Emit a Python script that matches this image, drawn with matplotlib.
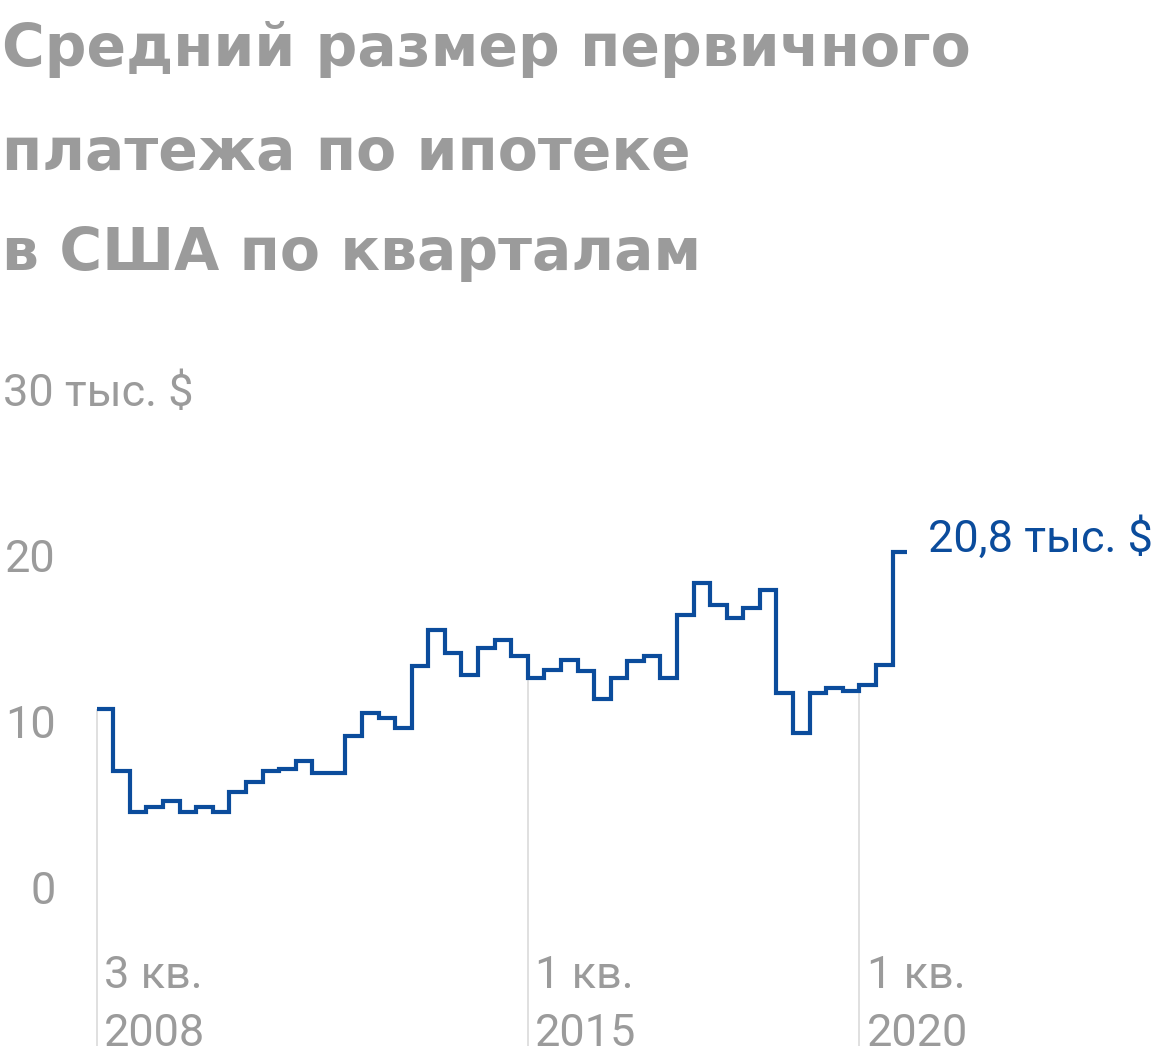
"""Средний размер первичного платежа по ипотеке в США по кварталам."""
import matplotlib
matplotlib.use("Agg")
import matplotlib.pyplot as plt

# первый квартал ряда
start_year = 2008
start_quarter = 3

# средний первичный платёж, тыс. $ (3 кв. 2008 — 3 кв. 2020)
payments = [
    11.3, 7.6, 5.1, 5.4, 5.8, 5.1, 5.4, 5.1, 6.3, 6.9,
    7.6, 7.7, 8.2, 7.5, 7.5, 9.7, 11.1, 10.8, 10.2, 13.9,
    16.1, 14.7, 13.4, 15.0, 15.5, 14.5, 13.2, 13.7, 14.3, 13.6,
    11.9, 13.2, 14.2, 14.5, 13.2, 17.0, 18.9, 17.6, 16.8, 17.4,
    18.5, 12.3, 9.9, 12.3, 12.6, 12.4, 12.8, 14.0, 20.8,
]

y_ticks = [0, 10, 20, 30]
y_tick_labels = ["0", "10", "20", "30 тыс. $"]
marked_quarters = [(2008, 3), (2015, 1), (2020, 1)]

GREY = "#9b9b9b"
BLUE = "#0b4c9c"
GRID = "#dddddd"

W, H = 1160, 1064
fig = plt.figure(figsize=(W / 100, H / 100), dpi=100)
ax = fig.add_axes([0, 0, 1, 1])

# пиксельная сетка: шаг квартала и единицы по y
px_q = 16.58
px_u = 16.6
x0_px, y0_px = 96.7, 897
ax.set_xlim(-x0_px / px_q, (W - x0_px) / px_q)
ax.set_ylim(-(H - y0_px) / px_u, y0_px / px_u)
ax.axis("off")

quarters = []
y, q = start_year, start_quarter
for _ in payments:
    quarters.append((y, q))
    q += 1
    if q > 4:
        q, y = 1, y + 1

# вертикальные линии для подписанных кварталов
for (yr, qr) in marked_quarters:
    i = quarters.index((yr, qr))
    ax.vlines(i, -9, payments[i], color=GRID, lw=1.3, zorder=1)
    ax.text(i + 0.45, -5.5, f"{qr} кв.", color=GREY, fontsize=32.5,
            family="Roboto", ha="left", va="baseline")
    ax.text(i + 0.45, -8.95, str(yr), color=GREY, fontsize=32.5,
            family="Roboto", ha="left", va="baseline")

xs = list(range(len(payments))) + [len(payments) - 1 + 0.85]
ys = payments + [payments[-1]]
line, = ax.step(xs, ys, where="post", color=BLUE, lw=3, zorder=3)
line.set_solid_joinstyle("miter")
line.set_solid_capstyle("butt")

for v, lab in zip(y_ticks, y_tick_labels):
    if v == y_ticks[-1]:
        ax.text(-96.7 / px_q + 3 / px_q, v - 0.45, lab, color=GREY, fontsize=32.5,
                family="Roboto", ha="left", va="baseline")
    else:
        ax.text(-96.7 / px_q + 56 / px_q, v - 0.45, lab, color=GREY, fontsize=32.5,
                family="Roboto", ha="right", va="baseline")

last = payments[-1]
ax.text(len(payments) - 1 + 2.14, last,
        f"{last:.1f}".replace(".", ",") + " тыс. $",
        color=BLUE, fontsize=32.5, family="Roboto", ha="left", va="baseline")

title_lines = ["Средний размер первичного", "платежа по ипотеке", "в США по кварталам"]
for line_txt, base in zip(title_lines, [66, 170, 270]):
    fig.text(2 / W, 1 - base / H, line_txt, color=GREY, fontsize=42,
             family="DejaVu Sans", weight="bold", ha="left", va="baseline")

fig.savefig("out.png", dpi=100, facecolor="white")
